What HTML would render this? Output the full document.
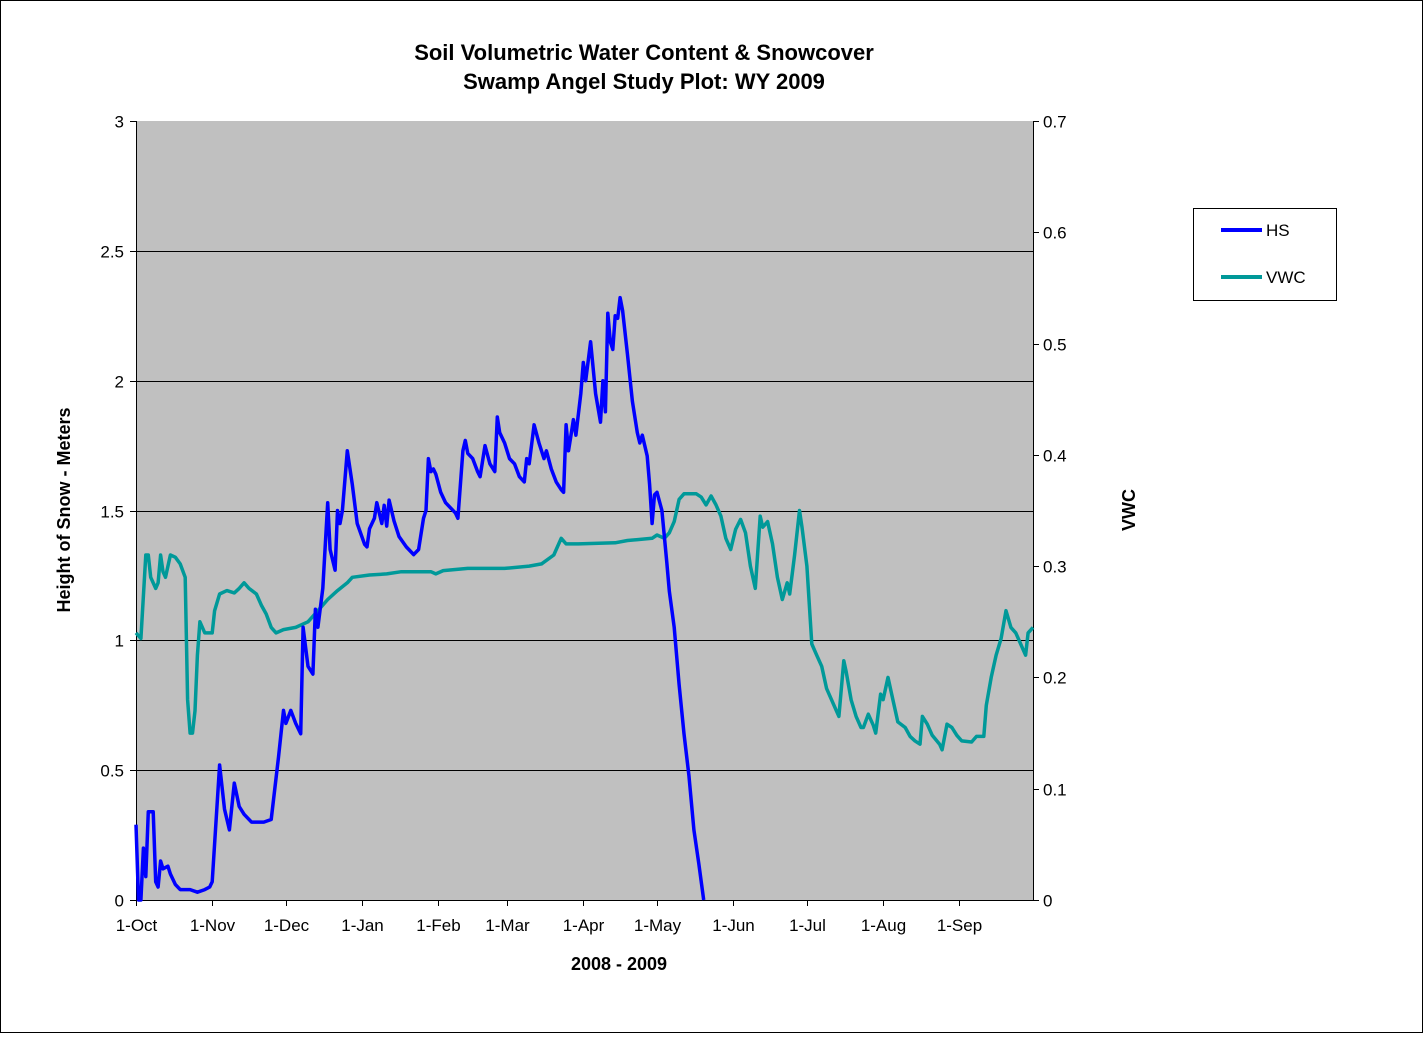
<!DOCTYPE html>
<html><head><meta charset="utf-8"><style>
body{margin:0;background:#fff;}
svg text{font-family:"Liberation Sans",Arial,sans-serif;}
</style></head><body>
<svg width="1423" height="1033" viewBox="0 0 1423 1033">
<rect x="0.5" y="0.5" width="1422" height="1032" fill="#fff" stroke="#000"/>
<text x="644" y="60" text-anchor="middle" font-size="22" font-weight="bold">Soil Volumetric Water Content &amp; Snowcover</text>
<text x="644" y="89" text-anchor="middle" font-size="22" font-weight="bold">Swamp Angel Study Plot: WY 2009</text>
<rect x="136" y="121" width="897" height="779" fill="#c0c0c0"/>
<g id="grid"></g>
<g id="axes"></g>
<g id="series"></g>
<text transform="translate(70,510) rotate(-90)" text-anchor="middle" font-size="18" font-weight="bold">Height of Snow - Meters</text>
<text transform="translate(1135,510) rotate(-90)" text-anchor="middle" font-size="18" font-weight="bold">VWC</text>
<text x="619" y="970" text-anchor="middle" font-size="18" font-weight="bold">2008 - 2009</text>
<g>
<rect x="1193.5" y="208.5" width="143" height="92" fill="#fff" stroke="#000"/>
<line x1="1221" y1="230" x2="1262" y2="230" stroke="#0000ff" stroke-width="4"/>
<text x="1266" y="236" font-size="17">HS</text>
<line x1="1221" y1="277" x2="1262" y2="277" stroke="#009999" stroke-width="4"/>
<text x="1266" y="283" font-size="17">VWC</text>
</g>
</svg>
<script>
const monthLabels=["1-Oct","1-Nov","1-Dec","1-Jan","1-Feb","1-Mar","1-Apr","1-May","1-Jun","1-Jul","1-Aug","1-Sep"];
const monthDays=[0,31,61,92,123,151,182,212,243,273,304,335];
const leftTicks=[0,0.5,1,1.5,2,2.5,3];
const rightTicks=[0,0.1,0.2,0.3,0.4,0.5,0.6,0.7];
const hsDays=[0,1,2,3,4,5,7,8,9,10,11,13,14,16,18,22,25,28,30,31,34,36,38,40,42,44,47,52,55,58,60,61,63,65,67,68,70,72,73,74,76,78,79,81,82,83,84,86,88,90,93,94,95,97,98,100,101,102,103,105,107,110,113,115,117,118,119,120,121,122,124,126,130,131,133,134,135,137,139,140,142,144,146,147,148,150,152,154,156,158,159,160,162,164,166,167,169,171,173,174,175,176,177,178,179,181,182,183,185,187,189,190,191,192,193,194,195,196,197,198,200,202,204,205,206,208,209,210,211,212,214,216,217,219,221,223,225,227,229,231];
const hsValues=[0.29,0,0,0.2,0.09,0.34,0.34,0.07,0.05,0.15,0.12,0.13,0.1,0.06,0.04,0.04,0.03,0.04,0.05,0.07,0.52,0.35,0.27,0.45,0.36,0.33,0.3,0.3,0.31,0.55,0.73,0.68,0.73,0.68,0.64,1.05,0.9,0.87,1.12,1.05,1.2,1.53,1.35,1.27,1.5,1.45,1.5,1.73,1.6,1.45,1.37,1.36,1.43,1.47,1.53,1.45,1.52,1.44,1.54,1.46,1.4,1.36,1.33,1.35,1.47,1.5,1.7,1.65,1.66,1.64,1.57,1.53,1.49,1.47,1.73,1.77,1.72,1.7,1.65,1.63,1.75,1.68,1.65,1.86,1.8,1.76,1.7,1.68,1.63,1.61,1.7,1.68,1.83,1.76,1.7,1.73,1.66,1.61,1.58,1.57,1.83,1.73,1.79,1.85,1.79,1.95,2.07,2.0,2.15,1.95,1.84,2.0,1.88,2.26,2.15,2.12,2.25,2.24,2.32,2.27,2.1,1.92,1.8,1.76,1.79,1.71,1.6,1.45,1.56,1.57,1.5,1.3,1.19,1.05,0.83,0.64,0.48,0.27,0.14,0.0];
const vwcDays=[0,2,4,5,6,8,9,10,11,12,14,16,18,20,21,22,23,24,25,26,28,31,32,34,37,40,42,44,46,49,51,53,55,57,60,65,70,74,78,82,86,88,95,102,108,120,122,125,135,150,160,165,170,173,175,180,195,200,210,212,215,217,219,221,223,228,230,232,234,236,238,240,242,244,246,248,250,252,254,255,257,259,261,263,265,266,268,270,271,273,275,277,279,281,283,285,286,288,289,291,293,295,296,298,300,301,303,304,306,308,310,313,315,317,319,320,322,324,327,328,330,332,334,336,340,342,345,346,348,350,352,354,356,358,362,363,365];
const vwcValues=[0.24,0.235,0.31,0.31,0.29,0.28,0.285,0.31,0.295,0.29,0.31,0.308,0.302,0.29,0.18,0.15,0.15,0.17,0.22,0.25,0.24,0.24,0.26,0.275,0.278,0.276,0.28,0.285,0.28,0.275,0.265,0.257,0.245,0.24,0.243,0.245,0.25,0.26,0.27,0.278,0.285,0.29,0.292,0.293,0.295,0.295,0.293,0.296,0.298,0.298,0.3,0.302,0.31,0.325,0.32,0.32,0.321,0.323,0.325,0.328,0.325,0.33,0.34,0.36,0.365,0.365,0.362,0.355,0.363,0.355,0.345,0.325,0.315,0.333,0.342,0.33,0.3,0.28,0.345,0.335,0.34,0.32,0.29,0.27,0.285,0.275,0.31,0.35,0.335,0.3,0.23,0.22,0.21,0.19,0.18,0.17,0.165,0.215,0.205,0.18,0.165,0.155,0.155,0.167,0.157,0.15,0.185,0.18,0.2,0.18,0.16,0.155,0.147,0.143,0.14,0.165,0.158,0.148,0.14,0.135,0.158,0.155,0.148,0.143,0.142,0.147,0.147,0.175,0.2,0.22,0.235,0.26,0.245,0.24,0.22,0.24,0.245];

const NS="http://www.w3.org/2000/svg";
const X0=136,X1=1033,Y0=900,Y1=121;
const xs=d=>X0+d*(X1-X0)/365;
const yL=v=>Y0-v*(Y0-Y1)/3;
const yR=v=>Y0-v*(Y0-Y1)/0.7;
function mk(tag,attrs,parent){const e=document.createElementNS(NS,tag);for(const k in attrs)e.setAttribute(k,attrs[k]);parent.appendChild(e);return e;}
const grid=document.getElementById('grid'),axes=document.getElementById('axes'),series=document.getElementById('series');
leftTicks.forEach(t=>{
  const y=Math.round(yL(t))+0.5;
  if(t>0&&t<3){const g=mk('line',{x1:X0,x2:X1,y1:y,y2:y,stroke:'#000','stroke-width':1},grid);
  
  }
  mk('line',{x1:X0-6,x2:X0,y1:y,y2:y,stroke:'#000'},axes);
  const tx=mk('text',{x:X0-12,y:y+6,'text-anchor':'end','font-size':17},axes);
  tx.textContent=String(t);
  
  
});
rightTicks.forEach(t=>{
  const y=Math.round(yR(t))+0.5;
  mk('line',{x1:X1,x2:X1+6,y1:y,y2:y,stroke:'#000'},axes);
  const tx=mk('text',{x:X1+10,y:y+6,'font-size':17},axes);
  tx.textContent=String(t);
  
  
});
monthDays.forEach((d,i)=>{
  const x=Math.round(xs(d))+0.5;
  mk('line',{x1:x,x2:x,y1:Y0,y2:Y0+6,stroke:'#000'},axes);
  const tx=mk('text',{x:x,y:Y0+31,'text-anchor':'middle','font-size':17},axes);
  tx.textContent=monthLabels[i];
  
  
});
mk('line',{x1:X0+0.5,x2:X0+0.5,y1:Y1,y2:Y0,stroke:'#000'},axes);
mk('line',{x1:X1+0.5,x2:X1+0.5,y1:Y1,y2:Y0,stroke:'#000'},axes);
mk('line',{x1:X0,x2:X1,y1:Y0+0.5,y2:Y0+0.5,stroke:'#000'},axes);
const v=mk('polyline',{points:vwcDays.map((d,i)=>xs(d).toFixed(1)+','+yR(vwcValues[i]).toFixed(1)).join(' '),fill:'none',stroke:'#009999','stroke-width':3.5,'stroke-linejoin':'round'},series);


const h=mk('polyline',{points:hsDays.map((d,i)=>xs(d).toFixed(1)+','+yL(hsValues[i]).toFixed(1)).join(' '),fill:'none',stroke:'#0000ff','stroke-width':3.5,'stroke-linejoin':'round'},series);


</script>
</body></html>
